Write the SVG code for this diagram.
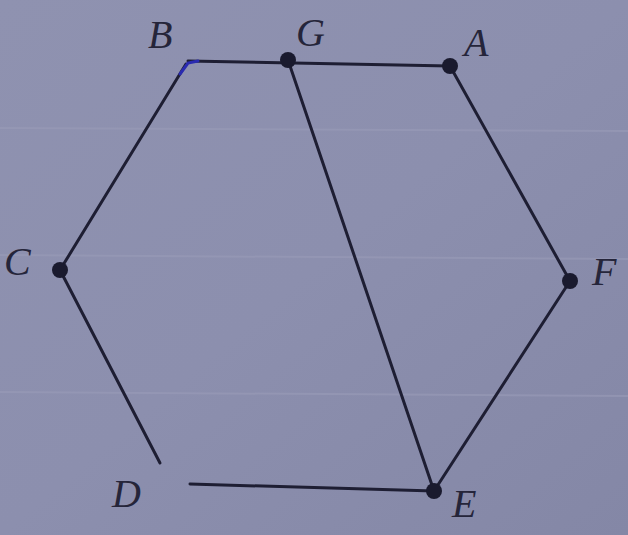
<svg xmlns="http://www.w3.org/2000/svg" width="628" height="535" viewBox="0 0 628 535">
<defs>
<linearGradient id="bg" x1="0" y1="0" x2="1" y2="1">
<stop offset="0" stop-color="#8f92b0"/>
<stop offset="0.5" stop-color="#8c8fae"/>
<stop offset="1" stop-color="#8487a6"/>
</linearGradient>
</defs>
<style>
.e{stroke:#1e1e33;stroke-width:3;stroke-linecap:round;fill:none}
.d{fill:#1a1a2e}
.t{font-family:"Liberation Serif",serif;font-style:italic;font-size:40px;fill:#25253a}
.r{stroke:#9a9cb8;stroke-width:2;opacity:0.6}
</style>
<rect width="628" height="535" fill="url(#bg)"/>
<line class="r" x1="0" y1="255" x2="628" y2="259"/>
<line class="r" x1="0" y1="392" x2="628" y2="396"/>
<line class="r" x1="0" y1="128" x2="628" y2="131"/>
<g id="connectors">
<line class="e" x1="188" y1="61" x2="450" y2="66"/>
<line class="e" x1="186" y1="64" x2="60" y2="270"/>
<line class="e" x1="60" y1="270" x2="160" y2="463"/>
<line class="e" x1="190" y1="484" x2="434" y2="491"/>
<line class="e" x1="434" y1="491" x2="570" y2="281"/>
<line class="e" x1="570" y1="281" x2="450" y2="66"/>
<line class="e" x1="288" y1="60" x2="434" y2="491"/>
<path d="M180 74 L188 63 L198 61" stroke="#2a2ab0" stroke-width="3" fill="none" stroke-linecap="round"/>
</g>
<g id="B"><text class="t" x="148" y="48">B</text></g>
<g id="G"><circle class="d" cx="288" cy="60" r="8"/><text class="t" x="296" y="46">G</text></g>
<g id="A"><circle class="d" cx="450" cy="66" r="8"/><text class="t" x="464" y="56">A</text></g>
<g id="C"><circle class="d" cx="60" cy="270" r="8"/><text class="t" x="4" y="275">C</text></g>
<g id="F"><circle class="d" cx="570" cy="281" r="8"/><text class="t" x="592" y="285">F</text></g>
<g id="D"><text class="t" x="112" y="507">D</text></g>
<g id="E"><circle class="d" cx="434" cy="491" r="8"/><text class="t" x="452" y="517">E</text></g>
</svg>
